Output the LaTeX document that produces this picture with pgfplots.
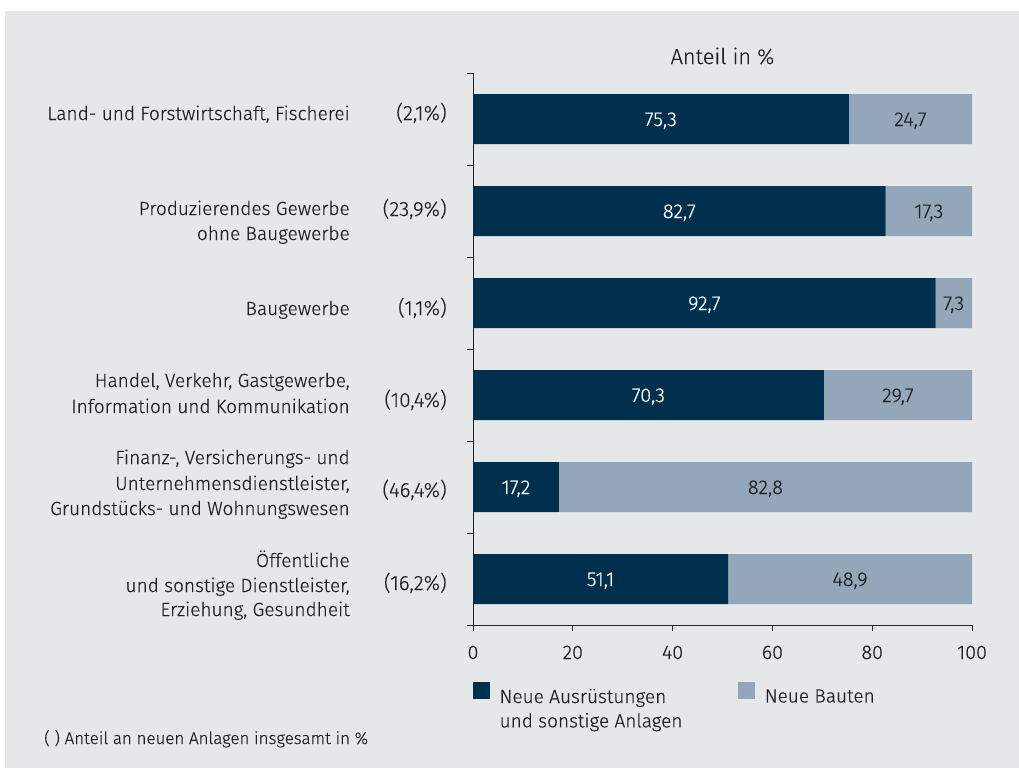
\documentclass[border=0pt]{standalone}
\usepackage{fontspec}
\setmainfont{Fira Sans Light}[FakeBold=0.35]
\usepackage{pgfplots}
\pgfplotsset{compat=1.18}
\definecolor{dark}{HTML}{01304F}
\definecolor{light}{HTML}{93A6BA}
\definecolor{bg}{HTML}{E6E7E9}
\definecolor{txt}{HTML}{222222}
\pgfplotstableread{
y aus bau
5 75.3 24.7
4 82.7 17.3
3 92.7 7.3
2 70.3 29.7
1 17.2 82.8
0 51.1 48.9
}\datatab
\begin{document}
\begin{tikzpicture}[font=\fontsize{14.3}{19}\selectfont, text=txt]
\fill[white] (0pt,0pt) rectangle (764.25pt,-582pt);
\fill[bg] (3.75pt,-8.25pt) rectangle (764.25pt,-576pt);
\begin{axis}[
  at={(354.75pt,-468.75pt)}, anchor=south west,
  scale only axis, width=374.25pt, height=414pt,
  xmin=0, xmax=100, ymin=-0.5, ymax=5.5,
  axis x line*=bottom, axis y line*=left,
  axis line style={txt, line width=0.75pt, -},
  xtick={0,20,...,100}, ytick={-0.5,0.5,...,5.5}, yticklabels={},
  tick align=outside, major tick length=4.5pt,
  tick style={txt, line width=0.75pt},
  xticklabel style={font=\fontsize{14.8}{17}\selectfont, text=txt, anchor=base, yshift=-21pt},
  /pgf/number format/assume math mode=true,
  xbar stacked, bar width=37.5pt,
  clip=false,
  legend columns=2,
  legend style={at={(0,0)}, anchor=north west, yshift=-42.5pt, draw=none, fill=none,
    inner sep=0pt, row sep=4pt,
    /tikz/every odd column/.append style={column sep=6pt},
    /tikz/every even column/.append style={column sep=41pt},
    nodes={inner sep=1pt, text=txt, font=\fontsize{14.3}{19}\selectfont}},
  legend cell align=left,
  legend image code/.code={\fill[#1] (0pt,-1.5pt) rectangle (12.75pt,11.25pt);},
]
\addplot[fill=dark, draw=none] table[x=aus, y=y] {\datatab};
\addplot[fill=light, draw=none] table[x=bau, y=y] {\datatab};
\addlegendentry{Neue Ausrüstungen}
\addlegendentry{Neue Bauten}
\addlegendimage{empty legend}
\addlegendentry{und sonstige Anlagen}
\end{axis}
% values inside the bars (x = 354.75pt + value*3.7425pt)
\begin{scope}[every node/.style={anchor=base, inner sep=0pt, font=\fontsize{15}{17}\selectfont}]
\node[text=white] at (495.66pt,-94.5pt) {75,3};
\node at (682.77pt,-94.5pt) {24,7};
\node[text=white] at (509.51pt,-163.5pt) {82,7};
\node at (696.62pt,-163.5pt) {17,3};
\node[text=white] at (528.21pt,-232.5pt) {92,7};
\node at (715.33pt,-232.5pt) {7,3};
\node[text=white] at (486.30pt,-301.5pt) {70,3};
\node at (673.41pt,-301.5pt) {29,7};
\node[text=white] at (386.94pt,-370.5pt) {17,2};
\node at (574.05pt,-370.5pt) {82,8};
\node[text=white] at (450.37pt,-439.5pt) {51,1};
\node at (637.49pt,-439.5pt) {48,9};
\end{scope}
% title
\node[anchor=base, font=\fontsize{16.3}{19}\selectfont] at (541.875pt,-48pt) {Anteil in \%};
% category labels
\begin{scope}[every node/.style={anchor=base east, inner sep=0pt}]
\node at (262.5pt,-90pt) {Land- und Forstwirtschaft, Fischerei};
\node at (262.5pt,-161.25pt) {Produzierendes Gewerbe};
\node at (262.5pt,-180pt) {ohne Baugewerbe};
\node at (262.5pt,-236.25pt) {Baugewerbe};
\node at (262.5pt,-290.25pt) {Handel, Verkehr, Gastgewerbe,};
\node at (262.5pt,-309.75pt) {Information und Kommunikation};
\node at (262.5pt,-348pt) {Finanz-, Versicherungs- und};
\node at (262.5pt,-367.5pt) {Unternehmensdienstleister,};
\node at (262.5pt,-386.25pt) {Grundstücks- und Wohnungswesen};
\node at (262.5pt,-425.25pt) {Öffentliche};
\node at (262.5pt,-444pt) {und sonstige Dienstleister,};
\node at (262.5pt,-462pt) {Erziehung, Gesundheit};
\end{scope}
\begin{scope}[every node/.style={anchor=base east, inner sep=0pt, font=\fontsize{15.5}{19}\selectfont}]
\node at (335.25pt,-90pt) {(2,1\%)};
\node at (335.25pt,-162pt) {(23,9\%)};
\node at (335.25pt,-236.25pt) {(1,1\%)};
\node at (335.25pt,-305.25pt) {(10,4\%)};
\node at (335.25pt,-372.75pt) {(46,4\%)};
\node at (335.25pt,-442.5pt) {(16,2\%)};
\end{scope}
\node[anchor=base west, inner sep=0pt, font=\fontsize{12.7}{15}\selectfont] at (33pt,-558pt) {( ) Anteil an neuen Anlagen insgesamt in \%};
\end{tikzpicture}
\end{document}
